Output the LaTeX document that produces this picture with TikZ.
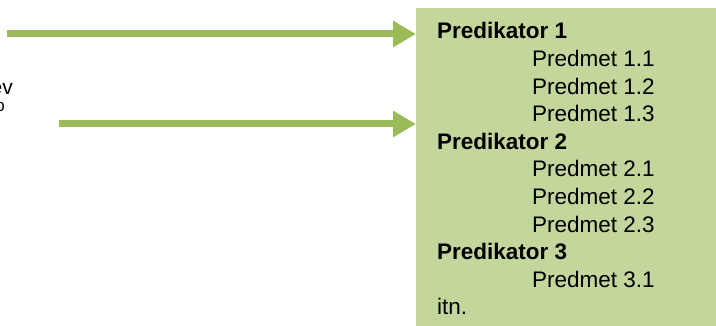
\documentclass[tikz,border=0pt]{standalone}
\usepackage{fontspec}
\setmainfont{Liberation Sans}
\usetikzlibrary{arrows.meta}
\definecolor{arrowgreen}{HTML}{9BBB59}
\definecolor{boxgreen}{HTML}{C3D69B}
\begin{document}
\begin{tikzpicture}[x=1pt,y=-1pt,
  lbl/.style={inner sep=0pt,anchor=base west,font=\fontsize{22.5}{25}\selectfont},
  bold/.style={lbl,font=\fontsize{22.5}{25}\selectfont\bfseries},
  conn/.style={draw=arrowgreen,line width=7pt,-{Triangle[length=23pt,width=25pt]}}]
\useasboundingbox (0,0) rectangle (716,326);
\node[fill=boxgreen,inner sep=0pt,minimum width=300pt,minimum height=318pt,anchor=north west] (box) at (416,8) {};
\node[bold] (p1) at (437,38.7) {Predikator 1};
\node[lbl] (m11) at (532,66.5) {Predmet 1.1};
\node[lbl] (m12) at (532,94.1) {Predmet 1.2};
\node[lbl] (m13) at (532,121.7) {Predmet 1.3};
\node[bold] (p2) at (437,149.3) {Predikator 2};
\node[lbl] (m21) at (532,176.9) {Predmet 2.1};
\node[lbl] (m22) at (532,204.5) {Predmet 2.2};
\node[lbl] (m23) at (532,232.1) {Predmet 2.3};
\node[bold] (p3) at (437,259.7) {Predikator 3};
\node[lbl] (m31) at (532,287.3) {Predmet 3.1};
\node[lbl] (itn) at (437,314.9) {itn.};
\node[inner sep=0pt,anchor=base east,font=\fontsize{21}{23}\selectfont] (ev) at (13,95) {ev};
\node[inner sep=0pt,anchor=base east,font=\fontsize{17}{19}\selectfont] (o) at (5,112) {o};
\coordinate (s1) at (7,34);
\coordinate (s2) at (59,124);
\draw[conn] (s1) -- (box.west |- s1);
\draw[conn] (s2) -- (box.west |- s2);
\end{tikzpicture}
\end{document}
